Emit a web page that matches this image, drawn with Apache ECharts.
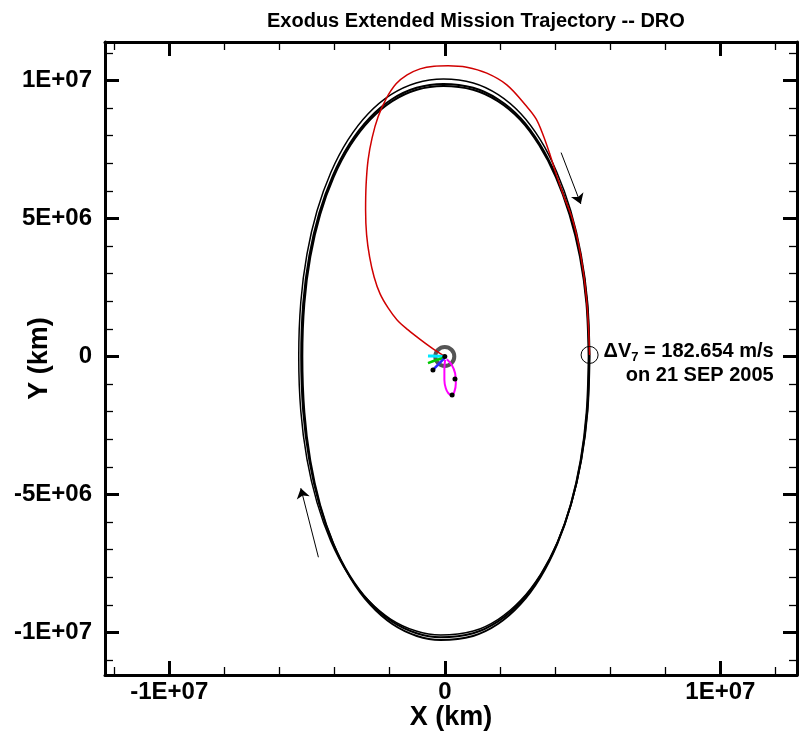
<!DOCTYPE html>
<html>
<head>
<meta charset="utf-8">
<script src="https://cdn.jsdelivr.net/npm/echarts@6/dist/echarts.min.js"></script>
<style>
  html, body { margin: 0; padding: 0; background: #ffffff; }
  #chart { width: 799px; height: 740px; }
</style>
</head>
<body>
<div id="chart"></div>
<script>
// All positions are in units of 10^6 km (Sun-Earth rotating frame, Earth at origin).

// Axis extents and tick marks
const xRange = [-12.33, 12.78];
const yRange = [-11.54, 11.39];
const xMajorTicks = [-10, 0, 10];
const xTickLabels = ['-1E+07', '0', '1E+07'];
const xMinorTicks = [-12, -8, -6, -4, -2, 2, 4, 6, 8, 12];
const yMajorTicks = [-10, -5, 0, 5, 10];
const yTickLabels = ['-1E+07', '-5E+06', '0', '5E+06', '1E+07'];
const yMinorTicks = [-11, -9, -8, -7, -6, -4, -3, -2, -1, 1, 2, 3, 4, 6, 7, 8, 9, 11];

// Distant retrograde orbit, three successive revolutions (clockwise)
const droRev1 = [[5.24,0],[5.166,-1.996],[4.945,-3.750],[4.584,-5.338],[4.089,-6.743],[3.474,-7.937],[2.750,-8.897],[1.932,-9.598],[1.029,-10.027],[-0.15,-10.17],[-1.023,-10.027],[-1.921,-9.598],[-2.735,-8.897],[-3.454,-7.937],[-4.066,-6.743],[-4.558,-5.338],[-4.917,-3.750],[-5.137,-1.996],[-5.21,0],[-5.137,1.937],[-4.917,3.639],[-4.558,5.181],[-4.066,6.544],[-3.454,7.703],[-2.735,8.634],[-1.921,9.315],[-1.023,9.731],[-0.05,9.87],[1.029,9.731],[1.932,9.315],[2.750,8.634],[3.440,7.703],[4.040,6.544],[4.540,5.181],[4.925,3.639],[5.160,1.937],[5.24,0]];
const droRev2 = [[5.22,0],[5.146,-2.016],[4.927,-3.787],[4.566,-5.391],[4.074,-6.809],[3.461,-8.015],[2.740,-8.984],[1.925,-9.693],[1.025,-10.125],[-0.15,-10.27],[-1.015,-10.125],[-1.906,-9.693],[-2.714,-8.984],[-3.428,-8.015],[-4.035,-6.809],[-4.523,-5.391],[-4.879,-3.787],[-5.097,-2.016],[-5.17,0],[-5.097,1.924],[-4.879,3.613],[-4.523,5.144],[-4.035,6.497],[-3.428,7.648],[-2.714,8.573],[-1.906,9.249],[-1.015,9.662],[-0.05,9.80],[1.025,9.662],[1.925,9.249],[2.740,8.573],[3.430,7.648],[4.030,6.497],[4.525,5.144],[4.905,3.613],[5.140,1.924],[5.22,0]];
const droRev3 = [[5.26,0],[5.186,-1.981],[4.964,-3.720],[4.601,-5.296],[4.105,-6.690],[3.487,-7.874],[2.761,-8.827],[1.939,-9.523],[1.033,-9.948],[-0.15,-10.09],[-1.040,-9.948],[-1.954,-9.523],[-2.782,-8.827],[-3.514,-7.874],[-4.136,-6.690],[-4.636,-5.296],[-5.002,-3.720],[-5.225,-1.981],[-5.30,0],[-5.225,1.973],[-5.002,3.705],[-4.636,5.275],[-4.136,6.663],[-3.514,7.843],[-2.782,8.792],[-1.954,9.485],[-1.040,9.908],[-0.05,10.05],[1.033,9.908],[1.939,9.485],[2.761,8.792],[3.470,7.843],[4.070,6.663],[4.570,5.275],[4.945,3.705],[5.180,1.973],[5.26,0]];

// Transfer leg from the Earth-Moon system out to DRO insertion
const transferLeg = [[0,0],[-0.425,0.272],[-0.896,0.616],[-1.332,0.960],[-1.731,1.322],[-2.057,1.757],[-2.348,2.265],[-2.565,2.880],[-2.729,3.605],[-2.837,4.402],[-2.874,5.308],[-2.856,6.214],[-2.783,7.120],[-2.638,7.917],[-2.420,8.678],[-2.130,9.330],[-1.767,9.874],[-1.368,10.199],[-0.896,10.417],[-0.388,10.515],[0.120,10.533],[0.798,10.478],[1.524,10.261],[2.250,9.837],[2.975,9.051],[3.313,8.605],[3.567,8.023],[3.821,7.301],[4.075,6.504],[4.329,5.779],[4.619,5.018],[4.837,4.149],[5.018,3.134],[5.145,2.047],[5.218,0.960],[5.254,0.054]];

// Earlier mission phases near Earth
const phaseCyan = [[-0.61,0.02],[-0.30,0.01],[0,0]];
const phaseGreen = [[-0.61,-0.24],[-0.30,-0.13],[0,-0.04]];
const phaseBlue = [[-0.43,-0.49],[-0.20,-0.25],[0,-0.05]];
const phaseMagenta = [[0.01,-0.127],[-0.015,-0.489],[-0.015,-0.851],[0.036,-1.152],[0.13,-1.333],[0.254,-1.406],[0.348,-1.275],[0.40,-0.971],[0.374,-0.609],[0.254,-0.308],[0.073,-0.101]];
const eventPoints = [[0,0],[-0.43,-0.49],[0.37,-0.815],[0.265,-1.395]];

// Lunar orbit centre, DRO insertion burn and direction-of-motion arrows
const moonOrbitCentre = [0, 0];
const burnPoint = [5.254, 0.054];
const burnText = { dv: '182.654 m/s', date: 'on 21 SEP 2005' };
const motionArrows = [
  [[4.22, 7.384], [4.935, 5.525]],
  [[-4.586, -7.275], [-5.225, -4.775]]
];

const FONT = '"Liberation Sans", Arial, Helvetica, sans-serif';

function labelFrom(ticks, labels) {
  return function (v) {
    for (let i = 0; i < ticks.length; i++) {
      if (Math.abs(ticks[i] - v) < 1e-9) return labels[i];
    }
    return '';
  };
}

function makeAxis(dim, position, major, extra) {
  const range = dim === 'x' ? xRange : yRange;
  const majorTicks = dim === 'x' ? xMajorTicks : yMajorTicks;
  const minorTicks = dim === 'x' ? xMinorTicks : yMinorTicks;
  const ax = {
    type: 'value',
    position: position,
    min: range[0],
    max: range[1],
    splitLine: { show: false },
    axisLine: { show: major, onZero: false, lineStyle: { color: '#000', width: 3 } },
    axisTick: {
      show: true,
      inside: true,
      customValues: major ? majorTicks : minorTicks,
      length: major ? 14 : 8,
      lineStyle: { color: '#000', width: major ? 3 : 1.3 }
    },
    axisLabel: { show: false }
  };
  return Object.assign(ax, extra || {});
}

const xLabelOpts = {
  axisLabel: {
    show: true,
    customValues: xMajorTicks,
    formatter: labelFrom(xMajorTicks, xTickLabels),
    color: '#000', fontFamily: FONT, fontWeight: 'bold', fontSize: 24, margin: 5
  },
  name: 'X (km)',
  nameLocation: 'middle',
  nameGap: 29,
  nameMoveOverlap: false,
  nameTextStyle: { color: '#000', fontFamily: FONT, fontWeight: 'bold', fontSize: 27 }
};
const yLabelOpts = {
  axisLabel: {
    show: true,
    customValues: yMajorTicks,
    formatter: labelFrom(yMajorTicks, yTickLabels),
    color: '#000', fontFamily: FONT, fontWeight: 'bold', fontSize: 24, margin: 13
  },
  name: 'Y (km)',
  nameLocation: 'middle',
  nameGap: 52,
  nameMoveOverlap: false,
  nameTextStyle: { color: '#000', fontFamily: FONT, fontWeight: 'bold', fontSize: 27 }
};

function trajectory(data, color, width) {
  return {
    type: 'line', data: data, xAxisIndex: 0, yAxisIndex: 0,
    smooth: 0.35, symbol: 'none', showSymbol: false, silent: true,
    lineStyle: { color: color, width: width }, z: 3
  };
}

const chart = echarts.init(document.getElementById('chart'), null, { renderer: 'canvas' });
chart.setOption({
  animation: false,
  backgroundColor: '#ffffff',
  title: {
    text: 'Exodus Extended Mission Trajectory -- DRO',
    left: 262, top: 6,
    textStyle: { color: '#000', fontFamily: FONT, fontWeight: 'bold', fontSize: 20 }
  },
  grid: { left: 105, right: 2, top: 42, bottom: 65, containLabel: false, outerBoundsMode: 'none' },
  xAxis: [
    makeAxis('x', 'bottom', true, xLabelOpts),
    makeAxis('x', 'bottom', false),
    makeAxis('x', 'top', true),
    makeAxis('x', 'top', false)
  ],
  yAxis: [
    makeAxis('y', 'left', true, yLabelOpts),
    makeAxis('y', 'left', false),
    makeAxis('y', 'right', true),
    makeAxis('y', 'right', false)
  ],
  series: [
    {
      type: 'scatter', data: [moonOrbitCentre], symbol: 'circle', symbolSize: 19, silent: true,
      itemStyle: { color: 'rgba(0,0,0,0)', borderColor: '#555555', borderWidth: 4, opacity: 1 }, z: 2
    },
    trajectory(droRev1, '#000000', 2),
    trajectory(droRev2, '#000000', 2),
    trajectory(droRev3, '#000000', 1.5),
    trajectory(transferLeg, '#d00000', 1.5),
    trajectory(phaseCyan, '#00e8ff', 3),
    trajectory(phaseGreen, '#00c800', 2.5),
    trajectory(phaseBlue, '#2a2aff', 2.5),
    trajectory(phaseMagenta, '#ff00ff', 2),
    {
      type: 'scatter', data: eventPoints, symbol: 'circle', symbolSize: 5, silent: true,
      itemStyle: { color: '#000', opacity: 1 }, z: 5,
      markLine: {
        silent: true, animation: false,
        symbol: ['none', 'arrow'], symbolSize: 10,
        label: { show: false },
        lineStyle: { color: '#000', width: 1, type: 'solid', opacity: 1 },
        data: motionArrows.map(function (a) { return [{ coord: a[0] }, { coord: a[1] }]; })
      }
    },
    {
      type: 'scatter', data: [burnPoint], symbol: 'circle', symbolSize: 17, silent: true,
      itemStyle: { color: 'rgba(0,0,0,0)', borderColor: '#000', borderWidth: 1, opacity: 1 }, z: 6,
      label: {
        show: true, position: 'right', distance: 5, offset: [0, 9], color: '#000',
        formatter: '{a|\u0394V}{s|7}{a| = ' + burnText.dv + '}\n{a|' + burnText.date + '}',
        rich: {
          a: { fontFamily: FONT, fontWeight: 'bold', fontSize: 20, color: '#000', lineHeight: 24, align: 'right' },
          s: { fontFamily: FONT, fontWeight: 'bold', fontSize: 13, color: '#000', lineHeight: 24, verticalAlign: 'bottom', align: 'right' }
        }
      }
    }
  ]
});
</script>
</body>
</html>
